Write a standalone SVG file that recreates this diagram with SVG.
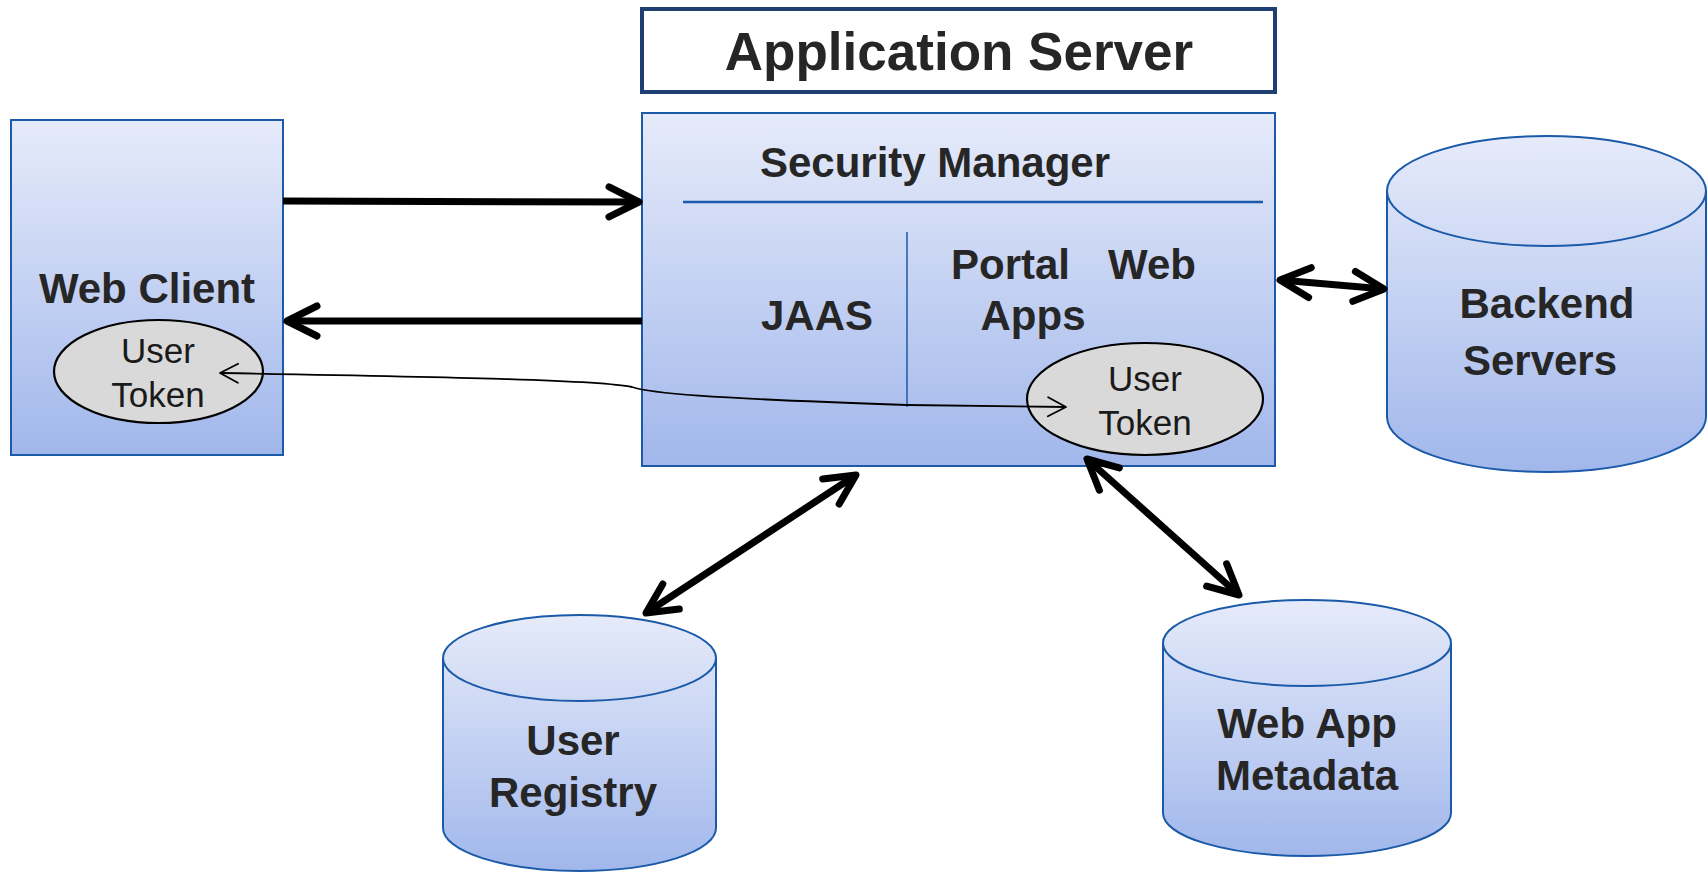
<svg xmlns="http://www.w3.org/2000/svg" width="1707" height="872" viewBox="0 0 1707 872">
<style>
.t{font-family:"Liberation Sans",Arial,sans-serif;font-weight:bold;fill:#262626;text-anchor:middle}
.r{font-family:"Liberation Sans",Arial,sans-serif;fill:#1a1a1a;text-anchor:middle}
.box{fill:url(#g);stroke:#1a5aa8;stroke-width:2}
.tok{fill:#d9d9d9;stroke:#000;stroke-width:2.2}
.thick{fill:none;stroke:#000;stroke-width:7}
.thin{fill:none;stroke:#000;stroke-width:1.8}
</style>
<defs>
<linearGradient id="g" x1="0" y1="0" x2="0" y2="1">
<stop offset="0" stop-color="#e6ebfa"/>
<stop offset="1" stop-color="#a1b7eb"/>
</linearGradient>
<marker id="ah" markerUnits="userSpaceOnUse" orient="auto-start-reverse" markerWidth="40" markerHeight="40" refX="0" refY="0" overflow="visible">
<path d="M-30,-15 L0,0 L-30,15" fill="none" stroke="#000" stroke-width="7" stroke-linecap="round" stroke-linejoin="round"/>
</marker>
<marker id="ahs" markerUnits="userSpaceOnUse" orient="auto-start-reverse" markerWidth="30" markerHeight="30" refX="0" refY="0" overflow="visible">
<path d="M-18,-9.5 L0,0 L-18,9.5" fill="none" stroke="#000" stroke-width="1.8" stroke-linecap="round" stroke-linejoin="round"/>
</marker>
</defs>

<g id="app-server-title">
<rect x="642" y="9" width="633" height="83" fill="#fff" stroke="#1f3e72" stroke-width="4"/>
<text class="t" x="959" y="70" font-size="53">Application Server</text>
</g>

<g id="security-manager">
<rect class="box" x="642" y="113" width="633" height="353"/>
<text class="t" x="935" y="177" font-size="42">Security Manager</text>
<line x1="683" y1="202" x2="1263" y2="202" stroke="#1a5aa8" stroke-width="2.5"/>
<line x1="907" y1="232" x2="907" y2="407" stroke="#1a5aa8" stroke-width="1.5"/>
<text class="t" x="817" y="330" font-size="42">JAAS</text>
<text class="t" font-size="42" text-anchor="start"><tspan x="951" y="279" text-anchor="start">Portal</tspan><tspan x="1108" y="279" text-anchor="start">Web</tspan></text>
<text class="t" x="1033" y="330" font-size="42">Apps</text>
</g>

<g id="server-token">
<ellipse class="tok" cx="1145" cy="399" rx="118" ry="56"/>
<text class="r" x="1145" y="391" font-size="35">User</text>
<text class="r" x="1145" y="435" font-size="35">Token</text>
</g>

<g id="web-client">
<rect class="box" x="11" y="120" width="272" height="335"/>
<text class="t" x="147" y="303" font-size="42">Web Client</text>
</g>

<g id="client-token">
<ellipse class="tok" cx="158.5" cy="371.5" rx="104.5" ry="51.5"/>
<text class="r" x="158" y="363" font-size="35">User</text>
<text class="r" x="158" y="407" font-size="35">Token</text>
</g>

<g id="backend-servers">
<path class="box" d="M1387,191 A159.5,55 0 0 1 1706,191 L1706,417 A159.5,55 0 0 1 1387,417 Z"/>
<path d="M1387,191 A159.5,55 0 0 0 1706,191" fill="none" stroke="#1a5aa8" stroke-width="2"/>
<text class="t" x="1547" y="318" font-size="42">Backend</text>
<text class="t" x="1540" y="375" font-size="42">Servers</text>
</g>

<g id="user-registry">
<path class="box" d="M443,658 A136.5,43 0 0 1 716,658 L716,828 A136.5,43 0 0 1 443,828 Z"/>
<path d="M443,658 A136.5,43 0 0 0 716,658" fill="none" stroke="#1a5aa8" stroke-width="2"/>
<text class="t" x="573" y="755" font-size="42">User</text>
<text class="t" x="573" y="807" font-size="42">Registry</text>
</g>

<g id="web-app-metadata">
<path class="box" d="M1163,643 A144,43 0 0 1 1451,643 L1451,813 A144,43 0 0 1 1163,813 Z"/>
<path d="M1163,643 A144,43 0 0 0 1451,643" fill="none" stroke="#1a5aa8" stroke-width="2"/>
<text class="t" x="1307" y="738" font-size="42">Web App</text>
<text class="t" x="1307" y="790" font-size="42">Metadata</text>
</g>

<g id="connectors">
<path class="thick" d="M283,201 L639,202" marker-end="url(#ah)"/>
<path class="thick" d="M642,321 L287,321" marker-end="url(#ah)"/>
<path class="thick" d="M1280,280 L1384,289" marker-start="url(#ah)" marker-end="url(#ah)"/>
<path class="thick" d="M856,475 L646,613" marker-start="url(#ah)" marker-end="url(#ah)"/>
<path class="thick" d="M1087,459 L1239,595" marker-start="url(#ah)" marker-end="url(#ah)"/>
<path class="thin" d="M220,373 C450,377 600,380 632,387 C650,393 700,398 907,405 L1066,407" marker-start="url(#ahs)" marker-end="url(#ahs)"/>
</g>
</svg>
